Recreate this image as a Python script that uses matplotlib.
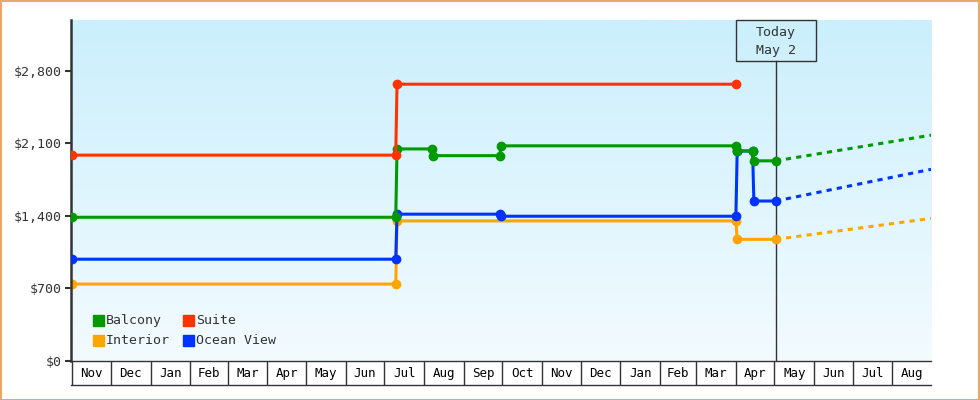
import numpy as np
import pandas as pd
import matplotlib
matplotlib.use('Agg')
import matplotlib.pyplot as plt
import matplotlib.dates as mdates
import matplotlib.transforms as mtransforms
from matplotlib.patches import Rectangle
from matplotlib.colors import LinearSegmentedColormap
from matplotlib.ticker import FuncFormatter

plt.rcParams['font.family'] = 'DejaVu Sans Mono'

# price history per cabin type
balcony_dates = ['2023-11-01', '2024-07-10', '2024-07-11', '2024-08-07', '2024-08-08',
                 '2024-09-29', '2024-09-30', '2025-04-01', '2025-04-02', '2025-04-14',
                 '2025-04-15', '2025-05-02']
balcony_prices = [1385, 1385, 2045, 2045, 1980, 1980, 2075, 2075, 2025, 2025, 1930, 1930]

suite_dates = ['2023-11-01', '2024-07-10', '2024-07-11', '2025-04-01']
suite_prices = [1985, 1985, 2670, 2670]

interior_dates = ['2023-11-01', '2024-07-10', '2024-07-11', '2025-04-01', '2025-04-02',
                  '2025-05-02']
interior_prices = [740, 740, 1350, 1350, 1172, 1172]

ocean_dates = ['2023-11-01', '2024-07-10', '2024-07-11', '2024-09-29', '2024-09-30',
               '2025-04-01', '2025-04-02', '2025-04-14', '2025-04-15', '2025-05-02']
ocean_prices = [980, 980, 1415, 1415, 1395, 1395, 2025, 2025, 1542, 1542]

# projections from today
proj_dates = ['2025-05-02', '2025-08-31']
balcony_proj = [1930, 2178]
ocean_proj = [1542, 1848]
interior_proj = [1172, 1374]

today = '2025-05-02'
today_label = 'Today\nMay 2'
month_labels = ['Nov', 'Dec', 'Jan', 'Feb', 'Mar', 'Apr', 'May', 'Jun', 'Jul', 'Aug', 'Sep',
                'Oct', 'Nov', 'Dec', 'Jan', 'Feb', 'Mar', 'Apr', 'May', 'Jun', 'Jul', 'Aug']
yticks = [0, 700, 1400, 2100, 2800]

colors = {'Balcony': '#009900', 'Suite': '#ff3300', 'Interior': '#ffa500', 'Ocean View': '#0033ff'}

W, H = 980, 400
fig = plt.figure(figsize=(W / 100, H / 100), dpi=100)
fig.patches.append(Rectangle((0.5 / W, 0.5 / H), 1 - 1.5 / W, 1 - 1.5 / H, transform=fig.transFigure,
                             fill=False, ec='#e9a964', lw=1.5))

ax = fig.add_axes([71 / W, 1 - 360.7 / H, 860 / W, 340.7 / H])
bg = LinearSegmentedColormap.from_list('bg', ['#cbeffc', '#f3fbff'])
ax.imshow(np.linspace(0, 1, 256).reshape(-1, 1), cmap=bg, extent=(0, 1, 0, 1),
          transform=ax.transAxes, aspect='auto', zorder=0)

today_num = mdates.date2num(pd.Timestamp(today))
ax.axvline(today_num, ymin=0, ymax=1 - 40.7 / 340.7, color='#333333', lw=1, zorder=1.5)

lw, ms = 2.2, 6
dash = (0, (1.7, 1.7))
ax.plot(pd.to_datetime(interior_dates), interior_prices, color=colors['Interior'], lw=lw,
        marker='o', ms=ms, zorder=2)
ax.plot(pd.to_datetime(proj_dates), interior_proj, color=colors['Interior'], lw=lw, ls=dash, zorder=2)
ax.plot(pd.to_datetime(ocean_dates), ocean_prices, color=colors['Ocean View'], lw=lw,
        marker='o', ms=ms, zorder=3)
ax.plot(pd.to_datetime(proj_dates), ocean_proj, color=colors['Ocean View'], lw=lw, ls=dash, zorder=3)
ax.plot(pd.to_datetime(balcony_dates), balcony_prices, color=colors['Balcony'], lw=lw,
        marker='o', ms=ms, zorder=4)
ax.plot(pd.to_datetime(proj_dates), balcony_proj, color=colors['Balcony'], lw=lw, ls=dash, zorder=4)
ax.plot(pd.to_datetime(suite_dates), suite_prices, color=colors['Suite'], lw=lw,
        marker='o', ms=ms, zorder=5)

x0, x1 = pd.Timestamp('2023-10-31'), pd.Timestamp('2025-08-31')
ax.set_xlim(x0, x1)
ax.set_ylim(0, 3290)
ax.set_yticks(yticks)
ax.yaxis.set_major_formatter(FuncFormatter(lambda v, p: '${:,.0f}'.format(v)))
ax.tick_params(axis='y', length=4, width=1.5, color='#333333', labelsize=9.5,
               labelcolor='#333333', pad=2.5)
ax.tick_params(axis='x', bottom=False, labelbottom=False)
for s in ['top', 'right']:
    ax.spines[s].set_visible(False)
ax.spines['left'].set_linewidth(1.8)
ax.spines['left'].set_color('#333333')
ax.spines['bottom'].set_linewidth(1)
ax.spines['bottom'].set_color('#333333')

# today marker box
trans = mtransforms.blended_transform_factory(ax.transData, ax.transAxes)
box_w = 80 / 860 * (mdates.date2num(x1) - mdates.date2num(x0))
box_h = 40.7 / 340.7
ax.add_patch(Rectangle((today_num - box_w / 2, 1 - box_h), box_w, box_h, transform=trans,
                       fill=False, ec='#333333', lw=1, zorder=6, clip_on=False))
ax.text(today_num, 1 - box_h / 2 - 0.003, today_label, transform=trans, ha='center', va='center',
        fontsize=9.5, color='#333333', linespacing=1.5, zorder=6)

# legend
sq_w, sq_h = 11 / 860, 11 / 340.7
legend_items = [('Balcony', 0, 0), ('Suite', 1, 0), ('Interior', 0, 1), ('Ocean View', 1, 1)]
for name, col, row in legend_items:
    lx = (92.7 - 71 + col * 90.3) / 860
    ly = (360.7 - 326 - row * 20) / 340.7
    ax.add_patch(Rectangle((lx, ly), sq_w, sq_h, transform=ax.transAxes, color=colors[name], zorder=6))
    ax.text(lx + sq_w + 2.5 / 860, ly + sq_h / 2, name, transform=ax.transAxes, ha='left',
            va='center', fontsize=9.5, color='#333333', zorder=6)

# month strip under the plot
ax2 = fig.add_axes([71 / W, 1 - 385 / H, 860 / W, 24.3 / H], sharex=ax)
ax2.set_ylim(0, 1)
ax2.set_xlim(x0, x1)
month_starts = pd.date_range('2023-11-01', periods=len(month_labels) + 1, freq='MS')
for i, lab in enumerate(month_labels):
    ax2.axvline(month_starts[i], color='#333333', lw=1)
    mid = month_starts[i] + (month_starts[i + 1] - month_starts[i]) / 2
    ax2.text(mid, 0.47, lab, ha='center', va='center', fontsize=9, color='black')
for s in ['top', 'left', 'right']:
    ax2.spines[s].set_visible(False)
ax2.spines['bottom'].set_linewidth(1)
ax2.spines['bottom'].set_color('#333333')
ax2.tick_params(left=False, labelleft=False, bottom=False, labelbottom=False)
ax2.patch.set_alpha(0)

fig.savefig('out.png', dpi=100)
